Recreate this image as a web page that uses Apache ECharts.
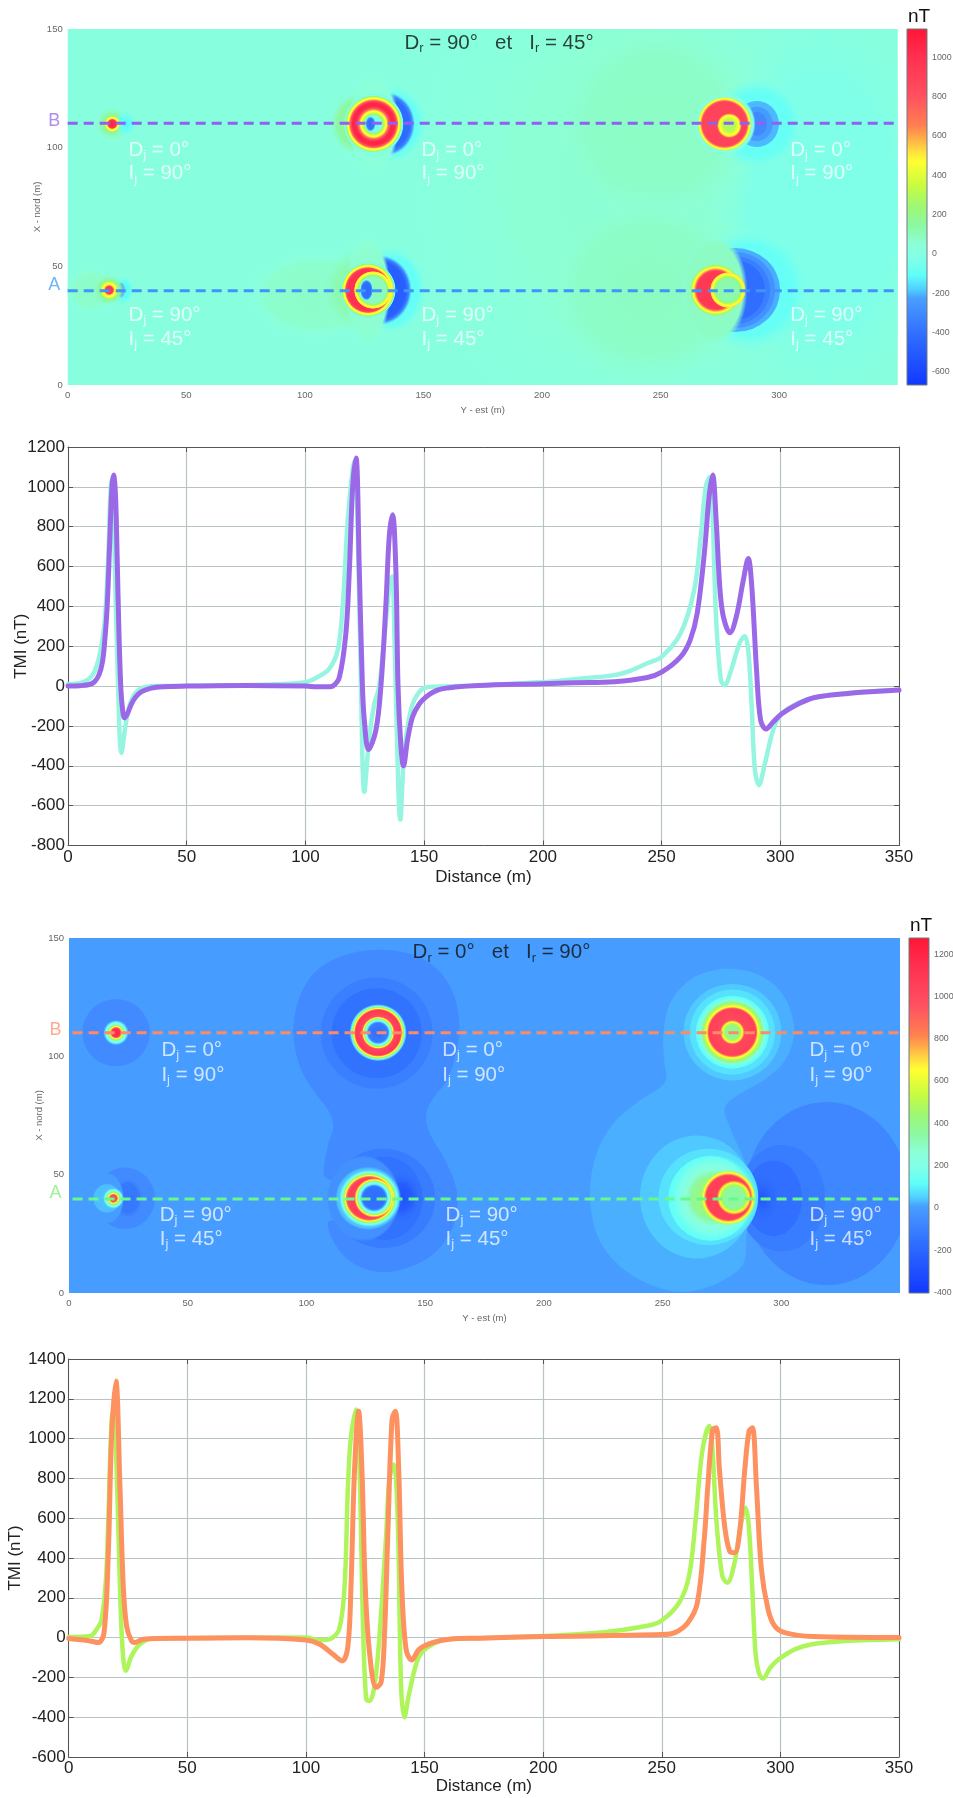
<!DOCTYPE html>
<html><head><meta charset="utf-8">
<script src="https://cdn.jsdelivr.net/npm/echarts@6/dist/echarts.min.js"></script>
<style>html,body{margin:0;padding:0;background:#fff}#c{width:953px;height:1798px;filter:blur(.45px)}</style>
</head><body><div id="c"></div>
<script>
// ---- colour scale: [position 0..1, colour]
const colorStops=[[0,'#1038ff'],[.064,'#2050ff'],[.146,'#3070ff'],[.2,'#4088ff'],[.245,'#48a0ff'],[.27,'#50d0ff'],[.31,'#60fff8'],[.355,'#80ffe8'],[.395,'#8cffd8'],[.45,'#8cf8a0'],[.506,'#a0f870'],[.56,'#c8fc40'],[.627,'#ffff30'],[.655,'#ffe040'],[.69,'#ffb048'],[.727,'#ff8050'],[.81,'#ff5060'],[.92,'#ff3050'],[1,'#ff1535']];
// ---- value ranges and tick labels
const range1=[-666,1144], range2=[-402,1276];
const barTicks1=[-600,-400,-200,0,200,400,600,800,1000];
const barTicks2=[-400,-200,0,200,400,600,800,1000,1200];
const mapXTicks=[0,50,100,150,200,250,300];

// ---- top map: field layers painted back to front. [x,y,rx,ry,profile] in metres; profile=[radius fraction,nT,alpha?] or a flat nT; polygons are {pts,v}
const map1Layers=[
 {pts:[[0,0],[350,0],[350,150],[0,150]],v:20},
 [240,85,95,115,[[0,60],[.55,55],[1,25,0]]],
 [318,75,50,90,[[0,-25],[.6,-25],[1,20,0]]],
 [248,110,48,48,[[0,85],[.6,78],[1,40,0]]],
 [245,40,48,44,[[0,88],[.6,80],[1,40,0]]],
 [105,38,30,19,[[0,75],[.7,70],[1,25,0]]],
 [10,40,11,10,[[0,80],[.7,70],[1,25,0]]],
 // x=18, row B
 [18.8,110,8,8,[[0,300],[.5,150],[1,40,0]]],
 [24.5,110,5,6,[[0,-130],[.5,-90],[1,0,0]]],
 [18.8,110,3.6,3.6,[[0,1050],[.45,1000],[.6,520],[.8,420],[1,200,0]]],
 // x=18, row A
 [23,40,5.5,6.5,[[0,-150],[.6,-100],[1,0,0]]],
 [22.5,40,1.8,3.6,[[0,-420],[.7,-350],[1,-150,0]]],
 [17.5,40,7.5,7,[[0,200],[.6,150],[1,40,0]]],
 [17.5,40,4.2,4.2,[[0,1000],[.35,950],[.5,520],[.75,420],[.9,250],[1,100,0]]],
 // x=125, row B
 [125,110,16,15,[[0,200],[.7,150],[1,30,0]]],
 [135,110,18,18,[[0,-110],[.7,-90],[1,0,0]]],
 [134.2,110,12.3,13.5,[[0,-430],[.8,-420],[.9,-300],[1,-150,0]]],
 [129,110,10.6,22,[[0,40],[.86,40],[1,20,0]]],
 [129,110,12.7,12.7,[[0,-100],[.25,-50],[.3,200],[.38,400],[.44,500],[.52,800],[.58,1050],[.7,1050],[.76,800],[.82,500],[.88,400],[.93,100],[.97,-50],[1,-150,0]]],
 [127.7,110,2.3,3.5,[[0,-420],[.6,-380],[.85,-150],[1,0,0]]],
 // x=125, row A
 [125,40,20,20,[[0,150],[.6,120],[1,40,0]]],
 [136,40,16,19,[[0,-110],[.75,-90],[1,0,0]]],
 [131.7,40,13.5,14.8,[[0,-500],[.8,-480],[.9,-320],[1,-150,0]]],
 [126.6,40,9.5,23,[[0,60],[.86,60],[1,30,0]]],
 [126.6,40,11.8,11.8,[[0,1000],[.72,1000],[.78,850],[.82,520],[.88,430],[.94,150],[.97,-50],[1,-200,0]]],
 [128.7,40,8,8,[[0,100],[.7,100],[.8,300],[.88,470],[.96,500],[1,500,0]]],
 [126,40,2.8,4.6,[[0,-430],[.7,-400],[.9,-150],[1,0,0]]],
 // x=278, row B
 [291,110,20,20,[[0,-110],[.7,-85],[1,0,0]]],
 [290.6,110,9.3,9.7,-200],
 [290.6,110,6.7,7.2,-240],
 [290.6,110,4.2,5,-300],
 [277,110,13.1,13.1,[[0,10],[.93,10],[1,10,0]]],
 [277,110,11.6,11.6,[[0,880],[.8,880],[.87,550],[.93,430],[1,200,0]]],
 [279,109.3,5.3,5.3,[[0,280],[.45,300],[.7,440],[.85,500],[1,600,0]]],
 // x=278, row A
 [287,40,27,27,[[0,-110],[.7,-90],[1,-10,0]]],
 [281.4,40,19,17.7,-210],
 [281.4,40,16.9,16,-270],
 [281.4,40,14.8,14.3,-340],
 [281.4,40,12.6,12.6,-410],
 [272.8,40,13.9,23.2,[[0,85],[.85,85],[1,50,0]]],
 [273.3,40,11,11,[[0,950],[.72,950],[.8,600],[.87,450],[.95,250],[1,120,0]]],
 [278.4,40,7.6,7.6,[[0,120],[.62,130],[.75,300],[.85,460],[.95,520],[1,520,0]]]
];

// ---- second map
const map2Peanut=[[129.6,145],[143.6,143.3],[154.9,137],[161.9,126.4],[164.4,113.8],[163.3,102.5],[159.1,89.9],[152.8,81.4],[150.4,74.4],[152,67.3],[157.7,57.5],[162.6,46.3],[163.6,36.4],[160.5,25.2],[152,15.3],[139.4,9.7],[129.6,9],[119.8,12.5],[112.7,19.5],[109.2,30.1],[118.4,30.8],[116,45],[107.8,49],[107.4,53.3],[109.2,63.1],[111.3,70.2],[109.2,77.2],[102.9,85.6],[97.3,95.5],[94.5,109.5],[96.6,123.6],[103.6,135.6],[115.6,142.6]];
const map2Light=[[278.4,137],[291,134.2],[300.9,125.7],[305.4,111],[301.6,98.3],[292.5,89.9],[282.6,84.2],[276.3,78.6],[277.7,71.6],[282.6,60.3],[285.4,53.3],[287.5,39.2],[285.4,25.2],[284,12.5],[275.6,5.5],[264.4,1.2],[253.1,1],[240.5,5.5],[229.3,13.9],[222.2,25.2],[219.4,42],[222.2,58.9],[229.3,71.6],[240.5,81.4],[251,89.1],[250.7,98.3],[250.3,109.5],[253.1,122.2],[260.2,131.3],[268.6,135.6]];
const map2Layers=[
 {pts:[[0,0],[350,0],[350,150],[0,150]],v:0},
 {pts:map2Peanut,v:-60},
 // x=20
 [19.8,110,14.2,14.2,-60],
 [19.8,110,5.4,5.4,[[0,1150],[.3,1150],[.45,700],[.6,350],[.8,150],[1,60,0]]],
 [23.6,40,12.6,13,-60],
 [24.8,40,6.3,8.4,[[0,-130],[.75,-120],[1,-70,0]]],
 [15.9,40,7,10.5,0],
 [16,40,6,6.4,[[0,40],[.9,35],[1,15,0]]],
 [18.7,40,4.4,4.4,[[0,1000],[.32,1000],[.45,650],[.6,400],[.8,200],[1,80,0]]],
 // x=130, row B
 [129.6,109.8,23.5,23.5,-100],
 [129.6,109.8,19,19,-150],
 [130.2,110,12,12,[[0,-170],[.33,-110],[.4,100],[.46,300],[.53,650],[.58,1000],[.78,1100],[.83,750],[.88,500],[.93,250],[1,100,.2]]],
 // x=125, row A
 [132.4,40,21.8,21,-110],
 [133,40,16,17.6,-150],
 [140,40.5,9,11,[[0,-290],[.5,-240],[1,-150,0]]],
 [124,40,15.4,18.3,[[0,-40],[.94,-40],[1,-60,0]]],
 [126,40,14,13.5,[[0,45],[.93,40],[1,15,0]]],
 [126.5,40,12.6,12,[[0,1050],[.7,1050],[.75,900],[.8,650],[.86,400],[.92,200],[1,100,.3]]],
 [128.5,40.2,8.4,8.4,[[0,-160],[.55,-150],[.68,100],[.8,300],[.9,650],[1,700,0]]],
 // x=280, dark lobe at right of row A
 [319.1,42,34.4,38.7,-70],
 [300.2,40,18.3,22.5,-110],
 [296.7,40,12,16,-160],
 [292,40,8,11,[[0,-280],[1,-160,0]]],
 {pts:map2Light,v:22},
 // x=280, row B
 [279.4,110.2,20.6,20.4,45],
 [279.4,110.2,18,18,75],
 [279.4,110.2,15.4,15.4,125],
 [279.4,110.2,14.7,14.7,[[0,350],[.19,400],[.29,620],[.36,1000],[.66,1050],[.72,700],[.8,500],[.9,300],[1,150,0]]],
 // x=280, row A
 [264.4,40.6,23.9,26,45],
 [269.3,40.6,21,20.4,75],
 [270,40,17.6,17.9,125],
 [271.4,40.3,18.3,18.3,[[0,400],[.45,400],[.55,320],[.7,230],[.85,170],[1,130,0]]],
 [277.7,40.3,11.9,11.9,[[0,1050],[.78,1050],[.82,800],[.9,600],[1,400,0]]],
 [280.1,40.3,7.3,7.3,[[0,350],[.55,350],[.7,450],[.85,620],[1,650,0]]]
];

// ---- survey lines on the maps
const line1A=[[0,39.7],[350,39.7]], line1B=[[0,110.3],[350,110.3]];
const line2A=[[1.5,39.7],[350,39.7]], line2B=[[1.5,110],[350,110]];
// ---- map annotations: [x,y,letter,subscript,rest]
const notes1=[[25.4,99,'D','j',' = 0°'],[25.4,89,'I','j',' = 90°'],[25.4,29.5,'D','j',' = 90°'],[25.4,19.4,'I','j',' = 45°'],
 [149,99,'D','j',' = 0°'],[149,89,'I','j',' = 90°'],[149,29.5,'D','j',' = 90°'],[149,19.4,'I','j',' = 45°'],
 [304.5,99,'D','j',' = 0°'],[304.5,89,'I','j',' = 90°'],[304.5,29.5,'D','j',' = 90°'],[304.5,19.4,'I','j',' = 45°']];
const notes2=[[38.7,102.5,'D','j',' = 0°'],[38.7,92,'I','j',' = 90°'],[38,33,'D','j',' = 90°'],[38,22.8,'I','j',' = 45°'],
 [157,102.5,'D','j',' = 0°'],[157,92,'I','j',' = 90°'],[158.4,33,'D','j',' = 90°'],[158.4,22.8,'I','j',' = 45°'],
 [311.7,102.5,'D','j',' = 0°'],[311.7,92,'I','j',' = 90°'],[311.7,33,'D','j',' = 90°'],[311.7,22.8,'I','j',' = 45°']];
const title1=[[141.8,144,'90°','45°']], title2=[[144.5,143.9,'0°','90°']];
const rowLabels1=[[0,42.1,'A','#4aa0f5'],[0,111.3,'B','#9a70f0']];
const rowLabels2=[[0,42.2,'A','#80f080'],[0,111,'B','#ff9570']];

// ---- TMI profiles
const curve1A=[[0,10],[6.4,20],[10.6,60],[13.4,160],[15.5,330],[17,665],[18,1000],[18.6,1040],[19.7,620],[21.1,0],[22.5,-335],[24.6,-170],[26.7,-70],[30.2,-15],[37,0],[60,3],[85,8],[100,20],[105,45],[110,87],[113.6,180],[115.7,400],[117.8,830],[120,1100],[120.8,1130],[122,800],[123.4,0],[124.8,-530],[126.9,-255],[129,-90],[131.1,0],[134.5,400],[135.7,530],[136.6,550],[137.3,350],[138,0],[140,-670],[141.6,-340],[144.4,-120],[147.9,-30],[152,-5],[173,3],[200,20],[213.2,35],[230,55],[237,78],[244,115],[250,147],[258,265],[263.7,480],[266.5,750],[268.6,1000],[270.3,1050],[271.5,850],[273,330],[275,30],[276.5,5],[279.3,80],[282.8,214],[285,250],[286.5,180],[287.9,-87],[289.3,-420],[291,-497],[293.5,-390],[297,-220],[300.5,-140],[307.5,-85],[314.5,-57],[328.5,-35],[350,-18]];
const curve1B=[[0,0],[5,2],[9,8],[11,20],[13,55],[14.5,120],[15.5,230],[16.5,400],[17.5,700],[18.5,1000],[19.2,1060],[20,960],[20.7,650],[21.5,250],[22.3,-20],[23,-120],[23.8,-160],[25,-140],[26.5,-95],[28.5,-55],[31,-28],[35,-10],[40,-3],[50,0],[75,3],[100,0],[105,-3],[110,-3],[111.5,0],[114.3,45],[117,260],[118.5,580],[119.9,1000],[121.3,1145],[122.7,580],[124,0],[124.8,-170],[126.6,-318],[129.7,-220],[131.8,0],[133.9,410],[135.3,750],[136.7,860],[138.1,580],[139,0],[140.2,-300],[141.3,-400],[143,-270],[145.1,-155],[147.9,-90],[150.7,-55],[153.5,-32],[157,-15],[163,-5],[173,3],[200,12],[213,17],[230,22],[244,43],[250,70],[258,147],[262,230],[265,365],[268,665],[270,950],[271.5,1060],[273,830],[274.5,500],[276,350],[278.8,268],[281.5,350],[284.4,530],[286.5,640],[288,500],[290,80],[291.7,-170],[294,-215],[297,-180],[300.5,-140],[307.5,-90],[314.5,-57],[328.5,-37],[350,-20]];
const curve2A=[[0,3],[9,8],[11.8,42],[13.9,92],[15.7,293],[16.7,595],[18.1,1096],[19,1150],[20.2,845],[21.6,260],[22.7,-58],[24.1,-167],[26.5,-92],[30,-33],[35.6,-5],[100,0],[105.8,-13],[110,-8],[114,42],[116.3,260],[117.7,760],[119,1012],[121.2,1146],[122.6,845],[124,92],[125.4,-310],[126.8,-318],[128.9,-243],[131,8],[133.8,510],[135.2,800],[137,870],[138.7,595],[140.1,-240],[141.5,-400],[143.6,-276],[147.8,-92],[153.4,-33],[160.4,-8],[173,-3],[200,8],[213,15],[229,32],[243.3,58],[249.6,83],[257.3,175],[261.5,310],[264.3,595],[267,930],[270,1063],[271.3,960],[273,595],[275.5,310],[277.6,276],[280.4,360],[283.2,560],[285.3,653],[286.7,560],[288.1,260],[289.5,-75],[290.9,-176],[292.6,-206],[295.8,-150],[299.3,-109],[306.3,-58],[313.3,-33],[327.3,-17],[350,-8]];
const curve2B=[[0,-5],[9,-17],[12.5,-25],[14.9,25],[16.7,427],[18.1,1012],[19.9,1290],[21.6,760],[23,260],[24.4,58],[26.5,-17],[27.9,-25],[31.4,-8],[50,-3],[75,-1],[100,-12],[105.8,-33],[111.4,-84],[115.3,-117],[117.7,-42],[119,260],[120.5,845],[122.2,1138],[123.6,845],[125,260],[126.8,-75],[129.6,-250],[131.7,-225],[133.1,8],[134.5,510],[136.3,1096],[137.7,1138],[139.1,845],[140.4,260],[142.2,-58],[144.6,-112],[147.8,-58],[153.4,-25],[160.4,-8],[173,-3],[200,5],[250,15],[255.5,25],[261,75],[265,175],[268,510],[269.4,760],[271.5,1046],[273,1054],[274.3,845],[276.5,560],[278.6,435],[280.7,427],[282.8,527],[285,845],[286.8,1038],[288.2,1054],[289.9,760],[292,343],[294.8,142],[297.6,58],[301.8,25],[314,5],[350,0]];

// ---- helpers
const hex=c=>[1,3,5].map(i=>parseInt(c.substr(i,2),16));
function colorAt(t){
 t=Math.max(0,Math.min(1,t));
 for(let i=1;i<colorStops.length;i++){
  if(t<=colorStops[i][0]){
   const a=colorStops[i-1],b=colorStops[i],f=(t-a[0])/(b[0]-a[0]),A=hex(a[1]),B=hex(b[1]);
   return A.map((v,k)=>Math.round(v+(B[k]-v)*f));
  }
 }
 return hex(colorStops[colorStops.length-1][1]);
}
const rgba=(v,r,a)=>{const c=colorAt((v-r[0])/(r[1]-r[0]));return `rgba(${c[0]},${c[1]},${c[2]},${a})`;};
function gradientOf(profile,r){
 const st=[];
 for(let i=0;i<profile.length;i++){
  const p=profile[i],a=p[2]===undefined?1:p[2];
  st.push({offset:p[0],color:rgba(p[1],r,a)});
  const n=profile[i+1];
  if(n){const na=n[2]===undefined?1:n[2];
   for(let k=1;k<5;k++){const f=k/5;st.push({offset:p[0]+(n[0]-p[0])*f,color:rgba(p[1]+(n[1]-p[1])*f,r,a+(na-a)*f)});}
  }
 }
 return new echarts.graphic.RadialGradient(.5,.5,.5,st);
}
function layerSeries(layers,r,xi,yi){
 return {type:'custom',xAxisIndex:xi,yAxisIndex:yi,clip:true,silent:true,animation:false,z:1,
  data:layers.map((l,i)=>[i,0]),
  renderItem:(p,api)=>{
   const l=layers[api.value(0)];
   if(!Array.isArray(l)){
    return {type:'polygon',silent:true,shape:{points:l.pts.map(q=>api.coord(q)),smooth:l.pts.length>4?.35:0},style:{fill:rgba(l.v,r,1)}};
   }
   const c=api.coord([l[0],l[1]]),s=api.size([l[2],l[3]]);
   const fill=Array.isArray(l[4])?gradientOf(l[4],r):rgba(l[4],r,1);
   return {type:'circle',silent:true,x:c[0],y:c[1],scaleX:s[0]/100,scaleY:s[1]/100,shape:{cx:0,cy:0,r:100},style:{fill}};
  }};
}
function barSeries(r,xi,yi){
 const st=colorStops.map(s=>({offset:1-s[0],color:s[1]})).reverse();
 return {type:'custom',xAxisIndex:xi,yAxisIndex:yi,silent:true,animation:false,data:[[0,r[1],1,r[0]]],
  renderItem:(p,api)=>{
   const a=api.coord([api.value(0),api.value(1)]),b=api.coord([api.value(2),api.value(3)]);
   return {type:'rect',silent:true,shape:{x:a[0],y:a[1],width:b[0]-a[0],height:b[1]-a[1]},
    style:{fill:new echarts.graphic.LinearGradient(0,0,0,1,st),stroke:'#6f7a80',lineWidth:1}};
  }};
}
const FF='"Liberation Sans",Arial,sans-serif';
const plain=v=>String(v);
const subRich=(color)=>({t:{fontFamily:FF,fontSize:20.5,color,lineHeight:24},s:{fontFamily:FF,fontSize:13,color,lineHeight:9,verticalAlign:'bottom'}});
const pointLabels=(data,xi,yi,fmt,extra)=>({type:'scatter',xAxisIndex:xi,yAxisIndex:yi,clip:false,silent:true,animation:false,z:6,symbolSize:1,itemStyle:{color:'transparent'},data,
 label:Object.assign({show:true,position:'right',distance:0,formatter:fmt},extra)});
const fmtNote=p=>`{t|${p.data[2]}}{s|${p.data[3]}}{t|${p.data[4]}}`;
const fmtTitle=p=>`{t|D}{s|r}{t| = ${p.data[2]}   et   }{t|I}{s|r}{t| = ${p.data[3]}}`;
const dashed=(data,color,xi,yi)=>({type:'line',xAxisIndex:xi,yAxisIndex:yi,data,showSymbol:false,silent:true,animation:false,z:5,clip:false,lineStyle:{color,width:3,type:[10,6]}});
const rowSeries=(rows,xi,yi)=>rows.map(d=>({type:'scatter',xAxisIndex:xi,yAxisIndex:yi,clip:false,silent:true,animation:false,z:6,symbolSize:1,itemStyle:{color:'transparent'},data:[d],
 label:{show:true,position:'left',distance:7,formatter:d[2],fontFamily:FF,fontSize:18,color:d[3]}}));
const profile=(data,color,xi,yi,w)=>({type:'line',xAxisIndex:xi,yAxisIndex:yi,data,showSymbol:false,silent:true,animation:false,smooth:.35,z:4,lineStyle:{color,width:w,cap:'round',join:'round'}});

const grids=[],xAxes=[],yAxes=[],series=[];
const addGrid=b=>{grids.push(Object.assign({outerBoundsMode:'none'},b));return grids.length-1;};
function addMap(box,layers,r,lines,notes,title,rows,yName){
 const gi=addGrid(box);
 const xi=xAxes.length,yi=yAxes.length;
 xAxes.push({gridIndex:gi,type:'value',min:0,max:350,interval:50,nameMoveOverlap:false,axisLine:{show:false,onZero:false},axisTick:{show:false},splitLine:{show:false},
  axisLabel:{customValues:mapXTicks,formatter:plain,margin:5,fontFamily:FF,fontSize:9.5,color:'#666'},name:'Y - est (m)',nameLocation:'middle',nameGap:20,nameTextStyle:{fontFamily:FF,fontSize:9.5,color:'#666'}});
 yAxes.push({gridIndex:gi,type:'value',min:0,max:150,interval:50,nameMoveOverlap:false,axisLine:{show:false,onZero:false},axisTick:{show:false},splitLine:{show:false},
  axisLabel:{formatter:plain,margin:5,fontFamily:FF,fontSize:9.5,color:'#666'},name:'X - nord (m)',nameLocation:'middle',nameGap:yName,nameTextStyle:{fontFamily:FF,fontSize:9.5,color:'#666'}});
 series.push(layerSeries(layers,r,xi,yi));
 lines.forEach(l=>series.push(dashed(l[0],l[1],xi,yi)));
 series.push(pointLabels(notes,xi,yi,fmtNote,{rich:subRich('rgba(255,255,255,.92)')}));
 series.push(pointLabels(title,xi,yi,fmtTitle,{rich:subRich('#111')}));
 rowSeries(rows,xi,yi).forEach(s=>series.push(s));
}
function addBar(box,r,ticks){
 const gi=addGrid(box);
 const xi=xAxes.length,yi=yAxes.length;
 xAxes.push({gridIndex:gi,type:'value',min:0,max:1,position:'top',axisLine:{show:false,onZero:false},axisTick:{show:false},axisLabel:{show:false},splitLine:{show:false},
  name:'nT',nameLocation:'middle',nameGap:3,nameTextStyle:{fontFamily:FF,fontSize:19,color:'#111',verticalAlign:'bottom',padding:[0,0,0,4]}});
 yAxes.push({gridIndex:gi,type:'value',min:r[0],max:r[1],position:'right',axisLine:{show:false,onZero:false},splitLine:{show:false},
  axisTick:{show:true,inside:true,length:3,customValues:ticks,lineStyle:{color:'#555'}},
  axisLabel:{customValues:ticks,formatter:plain,margin:5,fontFamily:FF,fontSize:8.8,color:'#666'}});
 series.push(barSeries(r,xi,yi));
}
function addChart(box,ymin,ymax,a,b,colA,colB,nameGapY,nameGapX){
 const gi=addGrid(box);
 const xi=xAxes.length,yi=yAxes.length;
 const frame={show:true,onZero:false,lineStyle:{color:'#555',width:1}};
 const tick={show:true,inside:true,length:5,lineStyle:{color:'#555'}};
 const grid={show:true,lineStyle:{color:'#b8c4c4',width:1.2}};
 const lab={formatter:plain,margin:3,fontFamily:FF,fontSize:17,color:'#222'};
 xAxes.push({gridIndex:gi,type:'value',min:0,max:350,interval:50,nameMoveOverlap:false,axisLine:frame,axisTick:tick,splitLine:grid,axisLabel:lab,
  name:'Distance (m)',nameLocation:'middle',nameGap:nameGapX,nameTextStyle:{fontFamily:FF,fontSize:17,color:'#222'}});
 xAxes.push({gridIndex:gi,type:'value',min:0,max:350,interval:50,position:'top',axisLine:frame,axisTick:tick,splitLine:{show:false},axisLabel:{show:false}});
 yAxes.push({gridIndex:gi,type:'value',min:ymin,max:ymax,interval:200,nameMoveOverlap:false,axisLine:frame,axisTick:tick,splitLine:grid,axisLabel:lab,
  name:'TMI (nT)',nameLocation:'middle',nameGap:nameGapY,nameTextStyle:{fontFamily:FF,fontSize:17,color:'#222'}});
 yAxes.push({gridIndex:gi,type:'value',min:ymin,max:ymax,interval:200,position:'right',axisLine:frame,axisTick:tick,splitLine:{show:false},axisLabel:{show:false}});
 series.push(profile(a,colA,xi,yi,4.5));
 series.push(profile(b,colB,xi,yi,5));
}

addMap({left:67.7,top:29,width:830,height:356},map1Layers,range1,[[line1A,'#4094fa'],[line1B,'#9060f0']],notes1,title1,rowLabels1,25);
addBar({left:907,top:29,width:20,height:356},range1,barTicks1);
addChart({left:68,top:447,width:831,height:398.5},-800,1200,curve1A,curve1B,'#96f5e0','#9b69e8',38,23);
addMap({left:69,top:938,width:831,height:355},map2Layers,range2,[[line2A,'#66fa88'],[line2B,'#ff8a66']],notes2,title2,rowLabels2,25);
addBar({left:909,top:938,width:20,height:355},range2,barTicks2);
addChart({left:68.7,top:1359,width:830.3,height:398},-600,1400,curve2A,curve2B,'#aef55c','#fe9160',45,21);

const chart=echarts.init(document.getElementById('c'),null,{renderer:'canvas'});
chart.setOption({backgroundColor:'#fff',animation:false,tooltip:{show:false},grid:grids,xAxis:xAxes,yAxis:yAxes,series});
</script></body></html>
